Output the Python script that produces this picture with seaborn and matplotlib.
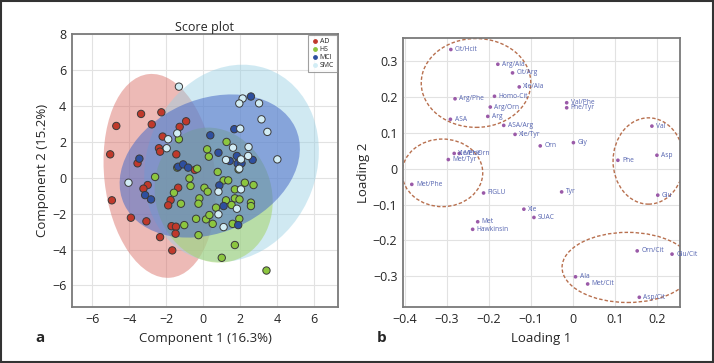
import numpy as np
import pandas as pd
import seaborn as sns
import matplotlib.pyplot as plt
from matplotlib.patches import Ellipse, Rectangle
from matplotlib.ticker import FuncFormatter

# ---- score plot data (component 1, component 2) ----
ad_x = [-4.70, -3.36, -2.26, -2.78, -0.92, -1.27, -2.19, -2.39, -2.33, -5.03, -1.45, -3.55, -3.00,
        -3.23, -4.94, -1.35, -1.76, -1.89, -3.91, -3.07, -1.71, -1.47, -1.49, -2.33, -1.67, -0.45]
ad_y = [2.88, 3.55, 3.64, 2.97, 3.14, 2.83, 2.29, 1.64, 1.45, 1.30, 1.30, 0.80, -0.41,
        -0.61, -1.26, -0.56, -1.25, -1.54, -2.23, -2.43, -2.70, -2.73, -3.12, -3.31, -4.05, 0.43]
hs_x = [-1.31, -1.40, -2.60, -1.58, -1.20, -1.02, -0.74, -0.68, 1.27, 0.22, 0.31, -0.32, 0.79, 1.92,
        1.11, 1.36, 2.26, 2.73, 0.07, 0.25, 1.72, 1.72, 1.97, -0.20, -0.25, 0.70, 1.24, 1.54, 2.59,
        2.59, -0.38, 0.16, 0.34, 0.52, 1.96, 1.60, -0.25, 1.72, 1.01, 3.43]
hs_y = [2.14, 0.56, 0.04, -0.84, -1.45, -2.64, -0.04, -0.46, 1.99, 1.58, 1.17, 0.50, 0.32, 0.46,
        -0.15, -0.15, -0.28, -0.41, -0.56, -0.78, -0.65, -1.15, -1.21, -1.15, -1.45, -1.67, -1.26,
        -1.52, -1.39, -1.58, -2.29, -2.32, -2.08, -2.57, -2.29, -2.57, -3.20, -3.75, -4.46, -5.17]
mci_x = [2.59, 1.69, 0.39, 0.83, 1.83, 1.44, 2.68, 1.87, 2.08, -3.45, -1.35, -1.08, -0.81,
         -3.14, -2.82, 0.88, 1.11, 1.90]
mci_y = [4.52, 2.70, 2.36, 1.39, 1.21, 0.93, 0.99, 0.78, 0.80, 1.06, 0.61, 0.74, 0.56,
         -0.97, -1.21, -0.43, -1.58, -2.64]
smc_x = [-1.31, 2.14, 1.96, 3.03, 3.16, 3.48, 2.01, 1.62, 2.46, 2.44, 1.24, 2.05, 1.96, 4.02,
         -1.40, -1.89, -1.97, -4.04, 0.83, 2.05, 1.83, 0.83, 1.11]
smc_y = [5.07, 4.41, 4.13, 4.14, 3.25, 2.55, 2.73, 1.67, 1.71, 1.21, 0.99, 1.02, 0.50, 1.02,
         2.47, 2.14, 1.64, -0.28, -0.78, -0.65, -1.73, -2.04, -2.75]

groups = ["AD", "HS", "MCI", "SMC"]
# 95% regions: centre x, centre y, width, height, angle
region_cx = [-2.35, 0.57, 0.36, 1.54]
region_cy = [0.10, -0.97, 0.65, 0.80]
region_w = [6.0, 6.3, 10.2, 9.2]
region_h = [11.4, 7.6, 7.4, 11.2]
region_ang = [6, 15, 25, -20]

# ---- loading plot data ----
load_names = ["Cit/Hcit", "Arg/Ala", "Cit/Arg", "Xle/Ala", "Arg/Phe", "Homo-Cit", "Arg/Orn", "Arg",
              "ASA", "ASA/Arg", "Xle/Tyr", "Val/Phe", "Phe/Tyr", "Orn", "Gly", "Val", "Phe", "Asp",
              "Glu", "Met/Tyr", "Xle/Phe", "Met/Orn", "Met/Phe", "FIGLU", "Tyr", "Xle", "SUAC",
              "Met", "Hawkinsin", "Orn/Cit", "Glu/Cit", "Ala", "Met/Cit", "Asp/Cit"]
load1 = [-0.291, -0.179, -0.144, -0.128, -0.281, -0.187, -0.197, -0.203, -0.292, -0.165, -0.138,
         -0.015, -0.015, -0.078, 0.001, 0.188, 0.107, 0.200, 0.202, -0.297, -0.283, -0.271, -0.384,
         -0.213, -0.027, -0.117, -0.093, -0.227, -0.239, 0.153, 0.236, 0.006, 0.035, 0.158]
load2 = [0.331, 0.290, 0.266, 0.227, 0.194, 0.201, 0.171, 0.145, 0.137, 0.120, 0.095, 0.183, 0.169,
         0.063, 0.072, 0.118, 0.023, 0.037, -0.074, 0.025, 0.042, 0.042, -0.044, -0.068, -0.065,
         -0.113, -0.136, -0.148, -0.169, -0.229, -0.238, -0.301, -0.321, -0.358]
# dashed cluster outlines: centre x, centre y, width, height
clus_cx = [-0.231, -0.311, 0.180, 0.130]
clus_cy = [0.238, -0.012, 0.021, -0.275]
clus_w = [0.261, 0.192, 0.169, 0.312]
clus_h = [0.247, 0.188, 0.240, 0.195]

#%% build frames
scores = pd.DataFrame({
    "c1": ad_x + hs_x + mci_x + smc_x,
    "c2": ad_y + hs_y + mci_y + smc_y,
    "group": ["AD"] * len(ad_x) + ["HS"] * len(hs_x) + ["MCI"] * len(mci_x) + ["SMC"] * len(smc_x),
})
loads = pd.DataFrame({"name": load_names, "l1": load1, "l2": load2})

pt_pal = {"AD": "#c0392b", "HS": "#8cc63f", "MCI": "#2e4f9f", "SMC": "#d2edf5"}
fill_pal = {"AD": "#d8675f", "HS": "#a6d46a", "MCI": "#4a6cc8", "SMC": "#98d0e4"}
fill_alpha = {"AD": 0.45, "HS": 0.55, "MCI": 0.55, "SMC": 0.45}

sns.set_style("whitegrid", {"grid.color": "#e2e2e2", "axes.edgecolor": "#7a7a7a"})
plt.rcParams["font.family"] = ["Open Sans", "DejaVu Sans"]

fig = plt.figure(figsize=(7.14, 3.63), dpi=100)
ax1 = fig.add_axes([0.1008, 0.1543, 0.3725, 0.752])
ax2 = fig.add_axes([0.5644, 0.1543, 0.388, 0.741])

#%% a: score plot
draw_order = ["AD", "SMC", "HS", "MCI"]
for g in draw_order:
    i = groups.index(g)
    ax1.add_patch(Ellipse((region_cx[i], region_cy[i]), region_w[i], region_h[i], angle=region_ang[i],
                          facecolor=fill_pal[g], alpha=fill_alpha[g], edgecolor="none", zorder=1))
sns.scatterplot(data=scores, x="c1", y="c2", hue="group", hue_order=groups, palette=pt_pal,
                s=28, edgecolor="#3a3a3a", linewidth=0.7, ax=ax1, zorder=3, legend=False)
ax1.set_xlim(-7.1, 7.3)
ax1.set_ylim(-7.2, 8)
ax1.set_xticks(range(-6, 7, 2))
ax1.set_yticks(range(-6, 9, 2))
ax1.set_xlabel("Component 1 (16.3%)", fontsize=9.5, labelpad=5)
ax1.set_ylabel("Component 2 (15.2%)", fontsize=9.5, labelpad=2)
ax1.set_title("Score plot", fontsize=9, pad=2)
ax1.tick_params(labelsize=9, length=0, pad=4)
for g in groups:
    ax1.scatter([], [], s=6, color=pt_pal[g], label=g)
leg = ax1.legend(loc="upper right", fontsize=5, frameon=True, fancybox=False, handletextpad=0.1,
                 borderpad=0.4, labelspacing=0.15, handlelength=1.2, borderaxespad=0.15)
leg.get_frame().set_edgecolor("#888888")
leg.get_frame().set_linewidth(0.8)
for sp in ax1.spines.values():
    sp.set_linewidth(1.3)

#%% b: loading plot
for i in range(len(clus_cx)):
    ax2.add_patch(Ellipse((clus_cx[i], clus_cy[i]), clus_w[i], clus_h[i], facecolor="none",
                          edgecolor="#b8704f", linestyle=(0, (2.5, 1.5)), linewidth=1, zorder=2))
sns.scatterplot(data=loads, x="l1", y="l2", color="#9a5aa8", s=7, edgecolor="none", ax=ax2, zorder=3)
for _, r in loads.iterrows():
    ax2.annotate(r["name"], (r["l1"], r["l2"]), xytext=(3, 0), textcoords="offset points",
                 fontsize=4.8, color="#5564b0", va="center", ha="left", zorder=4)
ax2.set_xlim(-0.405, 0.255)
ax2.set_ylim(-0.385, 0.363)
ax2.set_xticks(np.arange(-0.4, 0.25, 0.1))
ax2.set_yticks(np.arange(-0.3, 0.35, 0.1))
fmt = FuncFormatter(lambda v, p: ("%g" % round(v, 2)).replace("-", "\u2212") if abs(v) > 1e-9 else "0")
ax2.xaxis.set_major_formatter(fmt)
ax2.yaxis.set_major_formatter(fmt)
ax2.set_xlabel("Loading 1", fontsize=9.5, labelpad=5)
ax2.set_ylabel("Loading 2", fontsize=9.5, labelpad=2)
ax2.tick_params(labelsize=9, length=0, pad=4)
for sp in ax2.spines.values():
    sp.set_linewidth(1.3)

fig.text(0.056, 0.068, "a", fontsize=11, fontweight="bold", ha="center", va="center")
fig.text(0.535, 0.068, "b", fontsize=11, fontweight="bold", ha="center", va="center")
fig.patches.append(Rectangle((0.001, 0.002), 0.997, 0.995, transform=fig.transFigure, fill=False,
                             edgecolor="#333333", linewidth=1.5))

plt.savefig("out.png", dpi=100)
